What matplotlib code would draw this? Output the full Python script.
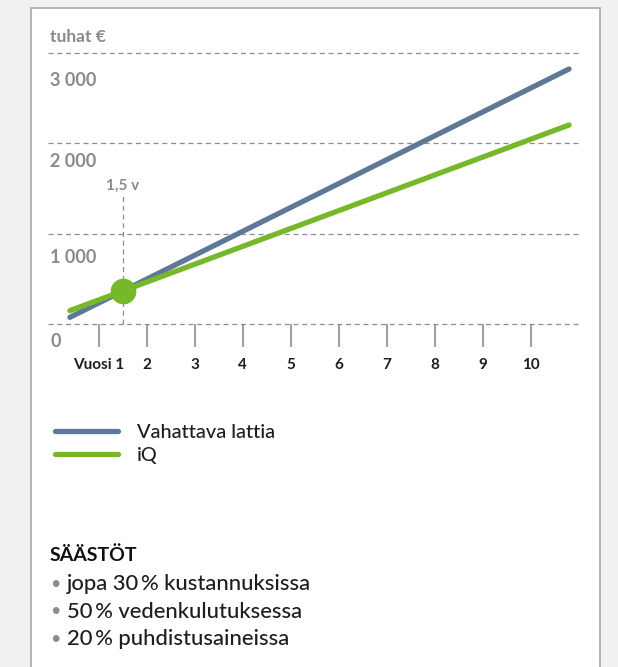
import matplotlib
matplotlib.use("Agg")
import matplotlib.pyplot as plt
from matplotlib.lines import Line2D
from matplotlib.patches import Rectangle

plt.rcParams["font.family"] = ["Lato", "DejaVu Sans"]

# data
years_span = [0.4, 10.8]
wax_floor = [74, 2824]      # Vahattava lattia, tuhat €
iq_floor = [148, 2204]      # iQ
breakeven_year = 1.5
breakeven_value = 365
grid_values = [0, 1000, 2000, 3000]
grid_labels = ["0", "1 000", "2 000", "3 000"]
year_ticks = list(range(1, 11))
year_labels = ["Vuosi 1"] + [str(y) for y in range(2, 11)]
series_names = ["Vahattava lattia", "iQ"]
savings_title = "SÄÄSTÖT"
savings = ["jopa 30\u2009% kustannuksissa",
           "50\u2009% vedenkulutuksessa",
           "20\u2009% puhdistusaineissa"]

BLUE = "#5f7898"
GREEN = "#76b82a"
GRID = "#8c8c8c"
LABEL_GREY = "#8a8a8a"
DARK = "#1e1e1e"

W, H = 618, 667
PX_PER_UNIT = 0.0903   # vertical pixels per tuhat €
label_drop_px = [17, 24, 18, 27]   # how far each y label sits below its gridline

fig = plt.figure(figsize=(W / 100, H / 100), dpi=100)
fig.patch.set_facecolor("#f1f1f1")


def px(x, y):
    return x / W, 1 - y / H


# white panel
x0, y0 = px(31, 700)
x1, y1 = px(600, 8)
fig.add_artist(Rectangle((x0, y0), x1 - x0, y1 - y0, transform=fig.transFigure,
                         facecolor="white", edgecolor="#a8a8a8", lw=1.2, zorder=0))

# chart axes, pixel box 48..579 x 25..380
left, bottom = px(48, 380)
ax = fig.add_axes([left, bottom, 531 / W, 355 / H])
ax.set_axis_off()
ax.set_xlim(-0.056, 11.006)
ax.set_ylim(-620, 3311)

for v, lab, drop in zip(grid_values, grid_labels, label_drop_px):
    ax.axhline(v, color=GRID, lw=0.9, ls=(0, (4, 3)), zorder=1)
    ax.text(0.004, v - drop / PX_PER_UNIT, lab, transform=ax.get_yaxis_transform(),
            ha="left", va="center", fontsize=13, fontweight="bold", color=LABEL_GREY)
ax.text(0.004, 3178, "tuhat €", transform=ax.get_yaxis_transform(),
        ha="left", va="center", fontsize=12.5, fontweight="bold", color=LABEL_GREY)

ax.vlines(year_ticks, -255, 0, color=GRID, lw=1.2, zorder=1)
for x, lab in zip(year_ticks, year_labels):
    ax.text(x, -454, lab, ha="center", va="center", fontsize=11,
            fontweight="bold", color=DARK)

# break-even marker
ax.vlines(breakeven_year, 0, 1429, color=GRID, lw=0.9, ls=(0, (4, 3)), zorder=1)
ax.text(breakeven_year, 1528, "1,5 v", ha="center", va="center", fontsize=11,
        fontweight="bold", color=LABEL_GREY)

ax.plot(years_span, wax_floor, color=BLUE, lw=3.8, solid_capstyle="round", zorder=3)
ax.plot(years_span, iq_floor, color=GREEN, lw=3.8, solid_capstyle="round", zorder=4)
ax.plot(breakeven_year, breakeven_value, "o", ms=17.5, color=GREEN, zorder=5)

# legend
for (yy, col, name) in [(431, BLUE, series_names[0]), (454, GREEN, series_names[1])]:
    (ax_, ay), (bx, by) = px(55, yy), px(118, yy)
    fig.add_artist(Line2D([ax_, bx], [ay, by], transform=fig.transFigure,
                          color=col, lw=3.8, solid_capstyle="round"))
    tx, ty = px(137, yy + 1)
    fig.text(tx, ty, name, ha="left", va="center", fontsize=14.3,
             fontweight="medium", color=DARK)

# savings box
tx, ty = px(50, 555)
fig.text(tx, ty, savings_title, ha="left", va="center", fontsize=14,
         fontweight="bold", color="#111111")
for i, line in enumerate(savings):
    yy = 584 + i * 27.5
    bx, by = px(55, yy)
    fig.text(bx, by, "•", ha="center", va="center", fontsize=13, color="#8c8c8c")
    tx, ty = px(67, yy)
    fig.text(tx, ty, line, ha="left", va="center", fontsize=15.8,
             fontweight="medium", color=DARK)

fig.savefig("out.png", dpi=100, facecolor=fig.get_facecolor())
